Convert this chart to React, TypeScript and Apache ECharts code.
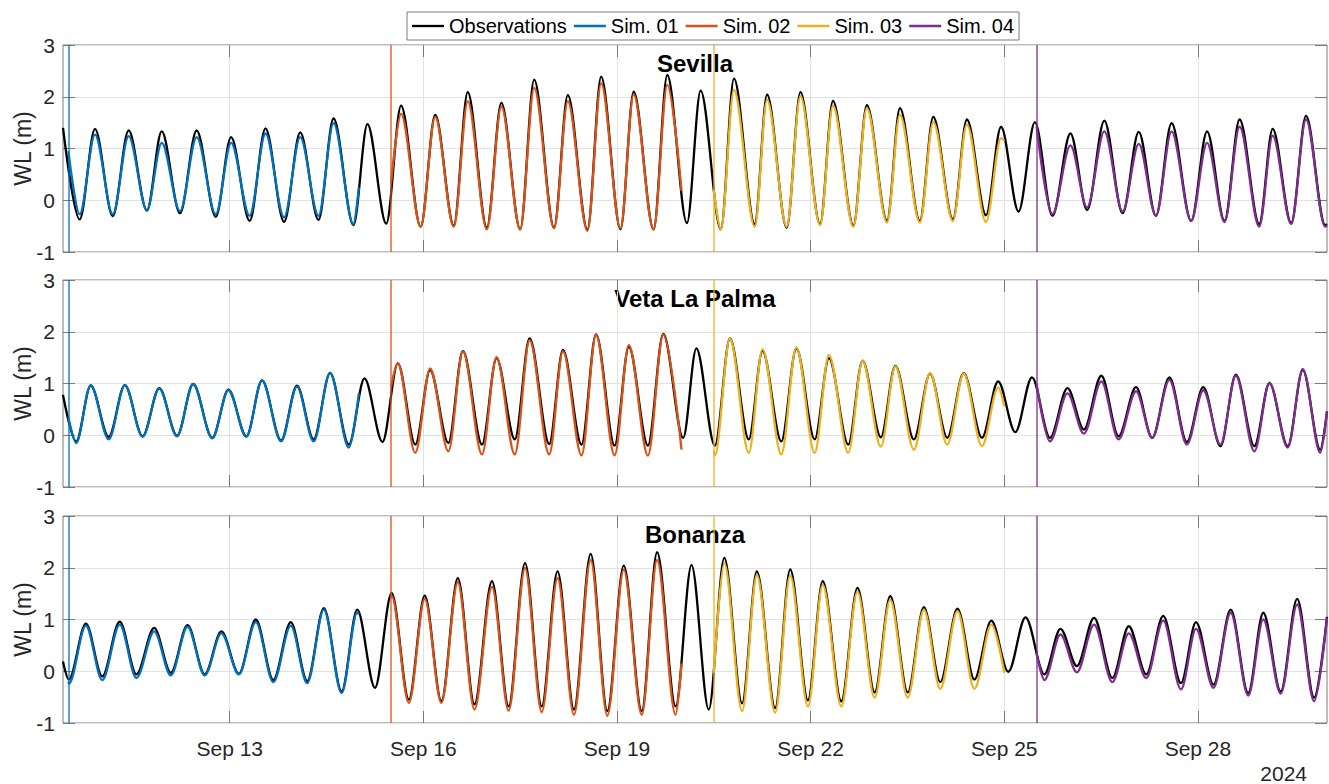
import React, { useEffect, useRef } from 'react';
import * as echarts from 'echarts';

const FONT = '"Liberation Sans", Arial, Helvetica, sans-serif';

// ---- categories / labels ----
const seriesNames = ['Observations', 'Sim. 01', 'Sim. 02', 'Sim. 03', 'Sim. 04'];
const seriesColors = ['#000000', '#0072BD', '#D95319', '#EDB120', '#7E2F8E'];
const stationNames = ['Sevilla', 'Veta La Palma', 'Bonanza'];
// hours since 2024-09-10 00:00
const axisStartHour = 10;
const axisEndHour = 480;
const simStartHours = [12, 132, 252, 372];
const simEndHours = [120, 240, 360, 480];
const tickHours = [72, 144, 216, 288, 360, 432];
const tickLabels = ['Sep 13', 'Sep 16', 'Sep 19', 'Sep 22', 'Sep 25', 'Sep 28'];
const yearLabel = '2024';

// ---- Sevilla: times of high/low water (h) and values (m) ----
const sevillaHours = [10, 16.2, 21.9, 28.5, 34.4, 41.2, 46.7, 53.5, 59.7, 66.8, 72.5, 79.4, 85.3, 92.2, 98.2, 105.0, 110.6, 118.0, 123.2, 130.2, 135.7, 143.0, 148.4, 155.3, 160.5, 167.6, 173.0, 180.0, 185.2, 192.6, 197.7, 205.0, 210.1, 217.3, 222.2, 229.6, 234.7, 242.0, 247.1, 254.6, 259.5, 267.2, 271.8, 279.1, 284.2, 291.5, 296.3, 303.9, 308.9, 316.4, 321.2, 328.6, 333.6, 340.9, 346.1, 353.2, 358.8, 365.3, 371.4, 377.9, 384.6, 390.8, 397.2, 404.0, 410.0, 416.4, 422.2, 429.5, 435.4, 441.9, 447.5, 454.8, 459.8, 466.7, 472.2, 479.3, 480];
const sevillaObs = [1.40, -0.37, 1.38, -0.31, 1.35, -0.20, 1.33, -0.25, 1.35, -0.32, 1.22, -0.40, 1.39, -0.42, 1.31, -0.38, 1.58, -0.48, 1.47, -0.45, 1.83, -0.51, 1.65, -0.49, 2.09, -0.53, 1.88, -0.56, 2.33, -0.53, 2.03, -0.57, 2.39, -0.56, 2.10, -0.56, 2.42, -0.44, 2.12, -0.56, 2.35, -0.46, 2.04, -0.53, 2.09, -0.46, 1.92, -0.49, 1.84, -0.40, 1.78, -0.40, 1.61, -0.37, 1.56, -0.29, 1.42, -0.22, 1.51, -0.30, 1.29, -0.19, 1.54, -0.25, 1.32, -0.30, 1.49, -0.40, 1.33, -0.40, 1.56, -0.46, 1.38, -0.44, 1.63, -0.48, -0.46];
// each sim: [value at start, values at extremes inside window..., value at end]
const sevillaSim01 = [0.95, -0.27, 1.27, -0.27, 1.24, -0.19, 1.11, -0.21, 1.22, -0.27, 1.11, -0.30, 1.29, -0.33, 1.22, -0.30, 1.49, -0.46, 0.25];
const sevillaSim02 = [0.34, 1.67, -0.51, 1.61, -0.51, 1.91, -0.56, 1.81, -0.56, 2.17, -0.54, 1.91, -0.59, 2.26, -0.54, 2.04, -0.57, 2.23, 0.18];
const sevillaSim03 = [0.20, -0.56, 2.13, -0.51, 1.94, -0.51, 2.01, -0.48, 1.83, -0.51, 1.78, -0.43, 1.65, -0.43, 1.51, -0.40, 1.46, -0.42, 1.20, 1.15];
const sevillaSim04 = [1.43, -0.27, 1.06, -0.14, 1.33, -0.22, 1.09, -0.30, 1.33, -0.40, 1.11, -0.42, 1.42, -0.51, 1.25, -0.46, 1.56, -0.51, -0.49];

// ---- Veta La Palma ----
const vlpHours = [10, 14.9, 20.3, 27.0, 33.0, 39.6, 45.8, 52.4, 58.4, 65.5, 71.5, 78.2, 84.0, 91.1, 97.0, 103.2, 109.3, 116.3, 122.1, 128.8, 134.5, 141.0, 146.5, 153.3, 158.7, 165.8, 171.2, 178.0, 183.5, 190.8, 195.9, 202.8, 208.2, 215.1, 220.4, 227.5, 233.2, 240.6, 245.5, 252.4, 258.0, 265.0, 270.1, 277.1, 282.7, 289.5, 294.8, 302.0, 307.3, 314.1, 319.5, 326.4, 332.4, 338.8, 344.9, 351.7, 357.7, 364.1, 370.3, 377.0, 383.5, 389.6, 396.1, 402.5, 409.0, 415.0, 421.4, 427.9, 434.0, 440.4, 446.1, 453.0, 458.6, 465.4, 471.0, 477.5, 480];
const vlpObs = [0.78, -0.12, 0.96, -0.03, 0.97, -0.02, 0.91, -0.01, 0.99, -0.05, 0.88, -0.02, 1.06, -0.10, 0.96, -0.08, 1.20, -0.18, 1.10, -0.13, 1.39, -0.18, 1.26, -0.15, 1.63, -0.18, 1.49, -0.08, 1.87, -0.17, 1.65, -0.18, 1.95, -0.20, 1.71, -0.20, 1.96, -0.05, 1.68, -0.20, 1.87, -0.08, 1.63, -0.12, 1.68, -0.08, 1.49, -0.18, 1.44, -0.04, 1.34, -0.08, 1.19, -0.05, 1.20, -0.05, 1.04, 0.06, 1.12, -0.05, 0.91, 0.11, 1.15, -0.02, 0.93, -0.05, 1.12, -0.13, 0.93, -0.21, 1.17, -0.21, 1.01, -0.21, 1.26, -0.28, 0.46];
const vlpSim01 = [0.35, -0.15, 0.97, -0.08, 0.97, -0.03, 0.90, -0.02, 0.99, -0.06, 0.87, -0.03, 1.06, -0.12, 0.94, -0.12, 1.21, -0.24, 0.81];
const vlpSim02 = [0.94, 1.39, -0.34, 1.29, -0.31, 1.62, -0.37, 1.51, -0.37, 1.84, -0.37, 1.62, -0.39, 1.94, -0.39, 1.74, -0.39, 1.95, -0.28];
const vlpSim03 = [-0.30, -0.39, 1.87, -0.34, 1.66, -0.37, 1.70, -0.34, 1.55, -0.34, 1.44, -0.22, 1.33, -0.28, 1.20, -0.18, 1.19, -0.21, 0.92, 0.56];
const vlpSim04 = [1.00, -0.12, 0.81, 0.03, 1.04, -0.08, 0.85, -0.05, 1.07, -0.18, 0.87, -0.18, 1.15, -0.31, 1.01, -0.24, 1.28, -0.34, 0.46];

// ---- Bonanza ----
const bonanzaHours = [10, 12.2, 18.5, 24.6, 31.1, 37.3, 43.9, 50.1, 56.3, 62.7, 68.9, 75.4, 81.7, 88.2, 94.7, 100.8, 107.0, 113.6, 119.4, 126.0, 132.2, 138.6, 144.5, 150.7, 156.8, 163.0, 169.5, 175.7, 181.8, 188.0, 193.9, 200.0, 206.2, 212.4, 218.5, 225.2, 230.9, 237.8, 243.7, 250.1, 255.9, 262.5, 268.0, 274.8, 280.4, 287.0, 292.5, 299.4, 305.4, 311.8, 317.6, 324.1, 330.1, 336.2, 342.6, 348.9, 355.2, 361.5, 367.9, 374.9, 380.9, 387.0, 393.4, 400.2, 406.3, 412.8, 419.1, 425.7, 431.3, 437.8, 444.2, 450.7, 456.3, 462.8, 468.9, 475.2, 480];
const bonanzaObs = [0.19, -0.16, 0.92, -0.10, 0.96, -0.06, 0.84, -0.03, 0.89, -0.06, 0.77, -0.05, 1.00, -0.17, 0.95, -0.19, 1.22, -0.39, 1.19, -0.32, 1.51, -0.55, 1.46, -0.58, 1.80, -0.64, 1.74, -0.68, 2.09, -0.68, 1.93, -0.74, 2.27, -0.77, 2.04, -0.77, 2.30, -0.68, 2.05, -0.74, 2.19, -0.62, 1.93, -0.71, 1.97, -0.56, 1.74, -0.58, 1.61, -0.41, 1.45, -0.41, 1.24, -0.21, 1.21, -0.16, 0.98, -0.01, 1.04, -0.06, 0.82, 0.10, 1.03, -0.13, 0.87, -0.06, 1.07, -0.23, 0.95, -0.26, 1.19, -0.42, 1.13, -0.39, 1.40, -0.51, 1.05];
const bonanzaSim01 = [-0.20, -0.24, 0.88, -0.17, 0.90, -0.13, 0.77, -0.08, 0.86, -0.08, 0.73, -0.06, 0.95, -0.21, 0.88, -0.23, 1.19, -0.42, 1.13, 1.10];
const bonanzaSim02 = [1.41, 1.45, -0.61, 1.40, -0.61, 1.72, -0.74, 1.63, -0.76, 1.99, -0.79, 1.80, -0.84, 2.15, -0.86, 1.96, -0.84, 2.15, -0.84, 0.15];
const bonanzaSim03 = [-0.03, 2.09, -0.77, 1.86, -0.80, 1.85, -0.68, 1.67, -0.68, 1.54, -0.51, 1.38, -0.51, 1.19, -0.34, 1.16, -0.34, 0.90, -0.03];
const bonanzaSim04 = [0.35, -0.17, 0.71, -0.02, 0.90, -0.21, 0.73, -0.13, 0.98, -0.35, 0.82, -0.32, 1.13, -0.47, 1.00, -0.43, 1.29, -0.58, 1.03];

const stationHours = [sevillaHours, vlpHours, bonanzaHours];
const stationObs = [sevillaObs, vlpObs, bonanzaObs];
const stationSims = [
  [sevillaSim01, sevillaSim02, sevillaSim03, sevillaSim04],
  [vlpSim01, vlpSim02, vlpSim03, vlpSim04],
  [bonanzaSim01, bonanzaSim02, bonanzaSim03, bonanzaSim04],
];

// ---- layout ----
const gridLeft = 63;
const gridRight = 2;
const gridTops = [45, 280, 516];
const gridHeight = 207;
const axisGrey = '#7a7a7a';
const gridGrey = '#e2e2e2';
const textColor = '#262626';

function buildOption(): any {
  const grids = gridTops.map((top) => ({
    left: gridLeft,
    right: gridRight,
    top,
    height: gridHeight,
    containLabel: false,
    outerBoundsMode: 'none',
    show: true,
    borderColor: axisGrey,
    borderWidth: 1,
    backgroundColor: '#ffffff',
  }));

  const xAxes: any[] = [];
  const yAxes: any[] = [];
  gridTops.forEach((_, g) => {
    xAxes.push({
      gridIndex: g,
      type: 'value',
      min: axisStartHour,
      max: axisEndHour,
      position: 'bottom',
      axisLine: { show: false, onZero: false },
      axisTick: { show: true, inside: true, length: 12, customValues: tickHours, lineStyle: { color: axisGrey, width: 1 } },
      axisLabel: {
        show: g === 2,
        customValues: tickHours,
        margin: 15,
        fontSize: 21,
        fontFamily: FONT,
        color: textColor,
        formatter: (v: number) => {
          const i = tickHours.indexOf(v);
          return i >= 0 ? tickLabels[i] : '';
        },
      },
      splitLine: { show: true, lineStyle: { color: gridGrey, width: 1 } },
    });
    xAxes.push({
      gridIndex: g,
      type: 'value',
      min: axisStartHour,
      max: axisEndHour,
      position: 'top',
      axisLine: { show: false, onZero: false },
      axisTick: { show: true, inside: true, length: 12, customValues: tickHours, lineStyle: { color: axisGrey, width: 1 } },
      axisLabel: { show: false, customValues: tickHours },
      splitLine: { show: false },
    });
    yAxes.push({
      gridIndex: g,
      type: 'value',
      min: -1,
      max: 3,
      interval: 1,
      position: 'left',
      axisLine: { show: false, onZero: false },
      axisTick: { show: true, inside: true, length: 12, lineStyle: { color: axisGrey, width: 1 } },
      axisLabel: { margin: 8, fontSize: 21, fontFamily: FONT, color: textColor },
      splitLine: { show: true, lineStyle: { color: gridGrey, width: 1 } },
      name: 'WL (m)',
      nameLocation: 'middle',
      nameGap: 29,
      nameMoveOverlap: false,
      nameTextStyle: { fontSize: 23, fontFamily: FONT, color: textColor },
    });
    yAxes.push({
      gridIndex: g,
      type: 'value',
      min: -1,
      max: 3,
      interval: 1,
      position: 'right',
      axisLine: { show: false, onZero: false },
      axisTick: { show: true, inside: true, length: 12, lineStyle: { color: axisGrey, width: 1 } },
      axisLabel: { show: false },
      splitLine: { show: false },
    });
  });

  const common = {
    type: 'line',
    showSymbol: false,
    symbol: 'none',
    smooth: 0.33,
    smoothMonotone: 'x',
    emphasis: { disabled: true },
    animation: false,
  };

  const series: any[] = [];
  gridTops.forEach((_, g) => {
    const hours = stationHours[g];
    const obs = stationObs[g];
    series.push({
      ...common,
      name: seriesNames[0],
      xAxisIndex: g * 2,
      yAxisIndex: g * 2,
      data: hours.map((h, k) => [h, obs[k]]),
      lineStyle: { color: seriesColors[0], width: 2.3 },
      itemStyle: { color: seriesColors[0] },
    });
    stationSims[g].forEach((vals, j) => {
      const s = simStartHours[j];
      const e = simEndHours[j];
      const ts = [s, ...hours.filter((h) => h > s && h < e), e];
      const color = seriesColors[j + 1];
      series.push({
        ...common,
        name: seriesNames[j + 1],
        xAxisIndex: g * 2,
        yAxisIndex: g * 2,
        data: ts.map((t, k) => [t, vals[k]]),
        lineStyle: { color, width: 2.3 },
        itemStyle: { color },
        markLine: {
          silent: true,
          animation: false,
          symbol: ['none', 'none'],
          label: { show: false },
          emphasis: { disabled: true },
          lineStyle: { color, width: 2, opacity: 0.65, type: 'solid' },
          data: [{ xAxis: s }],
        },
      });
    });
  });

  const gridCenterX = gridLeft + (1329 - gridLeft - gridRight) / 2;
  const graphic: any[] = stationNames.map((name, g) => ({
    type: 'text',
    x: gridCenterX,
    y: gridTops[g] + 6,
    silent: true,
    style: {
      text: name,
      fill: '#000000',
      font: `bold 24px ${FONT}`,
      align: 'center',
      verticalAlign: 'top',
    },
  }));
  graphic.push({
    type: 'text',
    x: 1307,
    y: 773,
    silent: true,
    style: {
      text: yearLabel,
      fill: textColor,
      font: `21px ${FONT}`,
      align: 'right',
      verticalAlign: 'middle',
    },
  });

  return {
    animation: false,
    backgroundColor: '#ffffff',
    textStyle: { fontFamily: FONT },
    legend: {
      data: seriesNames,
      left: 407,
      top: 12,
      orient: 'horizontal',
      padding: [4, 5],
      itemGap: 7,
      icon: 'rect',
      itemWidth: 32,
      itemHeight: 2.3,
      borderColor: axisGrey,
      borderWidth: 1,
      backgroundColor: '#ffffff',
      selectedMode: false,
      textStyle: { fontSize: 20, fontFamily: FONT, color: '#000000', lineHeight: 20 },
    },
    grid: grids,
    xAxis: xAxes,
    yAxis: yAxes,
    series,
    graphic,
  };
}

export default function App() {
  const ref = useRef<HTMLDivElement>(null);
  useEffect(() => {
    if (!ref.current) return;
    const chart = echarts.init(ref.current, null, { renderer: 'svg' });
    chart.setOption(buildOption());
    return () => {
      chart.dispose();
    };
  }, []);
  return (
    <div
      ref={ref}
      style={{ position: 'fixed', left: 0, top: 0, width: '1329px', height: '784px', background: '#ffffff' }}
    />
  );
}
